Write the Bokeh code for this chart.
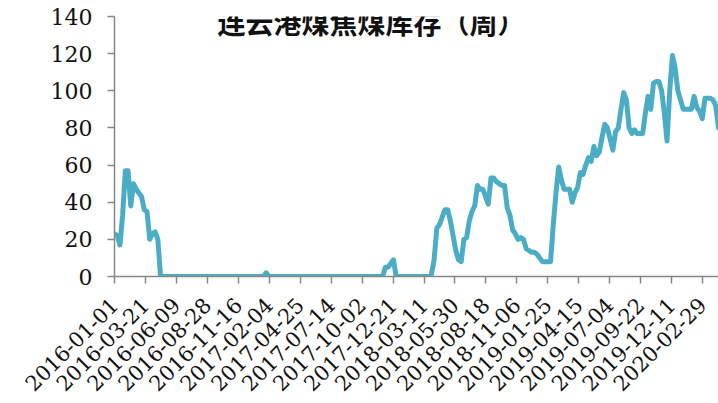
import pandas as pd
from math import pi
from bokeh.plotting import figure
from bokeh.models import (Range1d, FixedTicker, DatetimeTickFormatter, Label,
                          ColumnDataSource)
from bokeh.embed import file_html
from bokeh.resources import INLINE

title_text = "连云港煤焦煤库存（周）"

dates = [
    "2016-01-01", "2016-01-08", "2016-01-15", "2016-01-22", "2016-01-29", "2016-02-05",
    "2016-02-12", "2016-02-19", "2016-02-26", "2016-03-04", "2016-03-11", "2016-03-18",
    "2016-03-25", "2016-04-01", "2016-04-08", "2016-04-15", "2016-04-22", "2016-04-29",
    "2017-01-20", "2017-01-27", "2017-02-03",
    "2017-11-24", "2017-12-01", "2017-12-08", "2017-12-15", "2017-12-22", "2017-12-29",
    "2018-03-23", "2018-03-30", "2018-04-06", "2018-04-13", "2018-04-20", "2018-04-27",
    "2018-05-04", "2018-05-11", "2018-05-18", "2018-05-25", "2018-06-01", "2018-06-08",
    "2018-06-15", "2018-06-22", "2018-06-29", "2018-07-06", "2018-07-13", "2018-07-20",
    "2018-07-27", "2018-08-03", "2018-08-10", "2018-08-17", "2018-08-24", "2018-08-31",
    "2018-09-07", "2018-09-14", "2018-09-21", "2018-09-28", "2018-10-05", "2018-10-12",
    "2018-10-19", "2018-10-26", "2018-11-02", "2018-11-09", "2018-11-16", "2018-11-23",
    "2018-11-30", "2018-12-07", "2018-12-14", "2018-12-21", "2018-12-28", "2019-01-04",
    "2019-01-11", "2019-01-18", "2019-01-25", "2019-02-01", "2019-02-08", "2019-02-15",
    "2019-02-22", "2019-03-01", "2019-03-08", "2019-03-15", "2019-03-22", "2019-03-29",
    "2019-04-05", "2019-04-12", "2019-04-19", "2019-04-26", "2019-05-03", "2019-05-10",
    "2019-05-17", "2019-05-24", "2019-05-31", "2019-06-07", "2019-06-14", "2019-06-21",
    "2019-06-28", "2019-07-05", "2019-07-12", "2019-07-19", "2019-07-26", "2019-08-02",
    "2019-08-09", "2019-08-16", "2019-08-23", "2019-08-30", "2019-09-06", "2019-09-13",
    "2019-09-20", "2019-09-27", "2019-10-04", "2019-10-11", "2019-10-18", "2019-10-25",
    "2019-11-01", "2019-11-08", "2019-11-15", "2019-11-22", "2019-11-29", "2019-12-06",
    "2019-12-13", "2019-12-20", "2019-12-27", "2020-01-03", "2020-01-10", "2020-01-17",
    "2020-01-24", "2020-01-31", "2020-02-07", "2020-02-14", "2020-02-21", "2020-02-28",
    "2020-03-06", "2020-03-13", "2020-03-20", "2020-03-27", "2020-04-03", "2020-04-10",
]
values = [
    23, 22, 17, 33, 57, 57,
    38, 50, 47, 45, 43, 36,
    35, 20, 23, 24, 20, 0,
    0, 2, 0,
    0, 5, 5, 7, 9, 0,
    0, 1, 9, 26, 28, 32,
    36, 36, 30, 22, 14, 9,
    8, 20, 21, 30, 35, 38,
    49, 47, 47, 43, 39, 53,
    53, 51, 50, 49, 49, 37,
    33, 25, 23, 20, 21, 20,
    15, 14, 13, 13, 12, 10,
    8, 8, 8, 8, 28, 45,
    59, 52, 47, 47, 47, 40,
    45, 48, 56, 55, 60, 64,
    62, 70, 65, 67, 75, 82,
    80, 74, 68, 78, 80, 90,
    99, 95, 80, 77, 79, 77,
    77, 77, 88, 97, 90, 104,
    105, 105, 100, 88, 73, 100,
    119, 112, 100, 95, 90, 90,
    90, 90, 97, 91, 89, 85,
    96, 96, 96, 95, 92, 80,
]

tick_labels = [
    "2016-01-01", "2016-03-21", "2016-06-09", "2016-08-28", "2016-11-16",
    "2017-02-04", "2017-04-25", "2017-07-14", "2017-10-02", "2017-12-21",
    "2018-03-11", "2018-05-30", "2018-08-18", "2018-11-06", "2019-01-25",
    "2019-04-15", "2019-07-04", "2019-09-22", "2019-12-11", "2020-02-29",
]
y_ticks = [0, 20, 40, 60, 80, 100, 120, 140]

x = pd.to_datetime(dates)
src = ColumnDataSource(dict(x=x, y=values))

p = figure(width=718, height=400, x_axis_type="datetime",
           output_backend="svg", toolbar_location=None,
           x_range=Range1d(x[0], x[-1]), y_range=Range1d(0, 140),
           min_border_left=114, min_border_right=0,
           min_border_top=16, min_border_bottom=123)

p.line("x", "y", source=src, line_color="#4BACC6", line_width=5,
       line_join="round", line_cap="round")

tick_ms = [pd.Timestamp(t).timestamp() * 1000 for t in tick_labels]
p.xaxis.ticker = FixedTicker(ticks=tick_ms, minor_ticks=[])
fmt = "%Y-%m-%d"
p.xaxis.formatter = DatetimeTickFormatter(
    milliseconds=fmt, seconds=fmt, minsec=fmt, minutes=fmt, hourmin=fmt,
    hours=fmt, days=fmt, months=fmt, years=fmt)
p.xaxis.major_label_orientation = pi / 4
p.yaxis.ticker = FixedTicker(ticks=y_ticks, minor_ticks=[])

serif_font = "DejaVu Serif"
for ax in (p.xaxis, p.yaxis):
    ax.axis_line_color = "#878787"
    ax.axis_line_width = 1.5
    ax.major_tick_line_color = "#878787"
    ax.major_tick_line_width = 1.5
    ax.major_tick_out = 7
    ax.major_tick_in = 0
    ax.minor_tick_out = 0
    ax.minor_tick_in = 0
    ax.major_label_text_font = serif_font
    ax.major_label_text_font_style = "normal"
    ax.major_label_text_color = "#111111"

p.yaxis.major_label_text_font_size = "22px"
p.xaxis.major_label_text_font_size = "21px"
p.yaxis.major_label_standoff = 15
p.xaxis.major_label_standoff = 18

p.xgrid.visible = False
p.ygrid.visible = False
p.outline_line_color = None
p.background_fill_color = "white"
p.border_fill_color = "white"

title = Label(x=257, y=275, x_units="screen", y_units="screen", text=title_text,
              text_align="center", text_baseline="top",
              text_font="Noto Sans CJK SC", text_font_size="28px",
              text_font_style="bold", text_color="#111111")
p.add_layout(title)

open("out.html", "w").write(file_html(p, INLINE))
